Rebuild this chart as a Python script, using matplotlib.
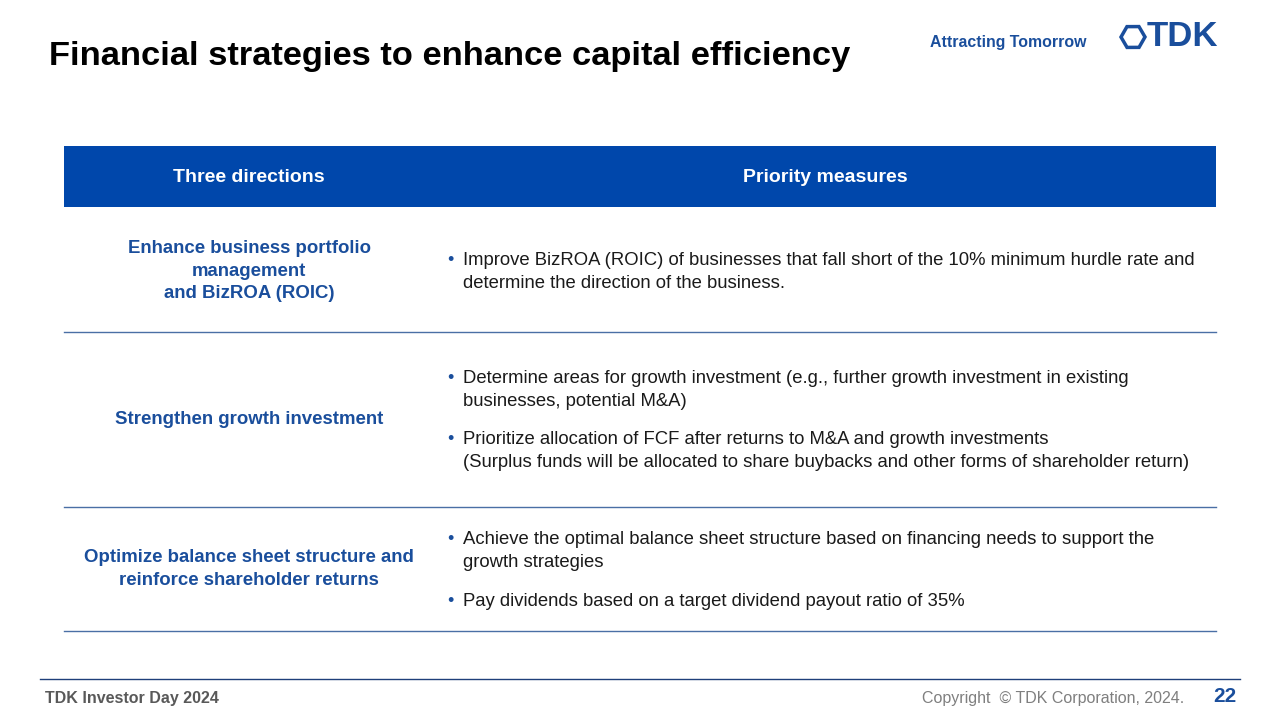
import matplotlib
matplotlib.use("Agg")
import matplotlib.pyplot as plt
from matplotlib.patches import Rectangle, RegularPolygon

plt.rcParams["font.family"] = "Liberation Sans"

title = "Financial strategies to enhance capital efficiency"
headers = ["Three directions", "Priority measures"]
directions = ["Enhance business portfolio\nmanagement\nand BizROA (ROIC)",
              "Strengthen growth investment",
              "Optimize balance sheet structure and\nreinforce shareholder returns"]
measures = [
    ["Improve BizROA (ROIC) of businesses that fall short of the 10% minimum hurdle rate and\ndetermine the direction of the business."],
    ["Determine areas for growth investment (e.g., further growth investment in existing\nbusinesses, potential M&A)",
     "Prioritize allocation of FCF after returns to M&A and growth investments\n(Surplus funds will be allocated to share buybacks and other forms of shareholder return)"],
    ["Achieve the optimal balance sheet structure based on financing needs to support the\ngrowth strategies",
     "Pay dividends based on a target dividend payout ratio of 35%"],
]
footer_left = "TDK Investor Day 2024"
footer_right = "Copyright  \u00a9 TDK Corporation, 2024."
page = "22"

BLUE = "#0047ab"
TXTBLUE = "#1a4e9c"
fig = plt.figure(figsize=(12.8, 7.2), dpi=100)
ax = fig.add_axes([0, 0, 1, 1])
ax.set_xlim(0, 1280); ax.set_ylim(720, 0); ax.axis("off")

ax.text(49, 56, title, fontsize=24.8, fontweight="bold", va="center", ha="left", color="black")
ax.text(930, 43, "Attracting Tomorrow", fontsize=11.4, fontweight="bold", color=TXTBLUE, va="center")
ax.add_patch(RegularPolygon((1133, 37), 6, radius=12, orientation=0.52, facecolor="none", edgecolor=TXTBLUE, lw=2.5))
ax.text(1147, 37, "TDK", fontsize=25, fontweight="bold", color=TXTBLUE, va="center", ha="left")

ax.add_patch(Rectangle((64, 146), 1152, 61, facecolor=BLUE, edgecolor="none"))
ax.text(249, 178, headers[0], fontsize=14, fontweight="bold", color="white", ha="center", va="center")
ax.text(825, 178, headers[1], fontsize=14, fontweight="bold", color="white", ha="center", va="center")

row_bounds = [207, 332, 507, 631]
dir_y = [271, 420, 569]
meas_y = [[272], [390, 451], [551, 601]]
LS = 23
for i in range(3):
    ax.plot([64, 1216], [row_bounds[i+1]]*2, color="#4a6fa5", lw=1)
    ax.text(249, dir_y[i], directions[i], fontsize=13.4, fontweight="bold", color=TXTBLUE,
            ha="center", va="center", linespacing=1.45)
    for m, y in zip(measures[i], meas_y[i]):
        nl = m.count("\n") + 1
        top = y - (nl - 1) * LS / 2
        ax.text(447, top, "\u2022", fontsize=13, color=TXTBLUE, ha="left", va="center")
        ax.text(463, y, m, fontsize=13.3, color="#1a1a1a", ha="left", va="center", linespacing=1.45)

ax.plot([40, 1240], [679, 679], color="#1f3f7a", lw=1)
ax.text(45, 699, footer_left, fontsize=11.5, fontweight="bold", color="#595959", va="center")
ax.text(1184, 698, footer_right, fontsize=11.5, color="#7f7f7f", va="center", ha="right")
ax.text(1237, 696, page, fontsize=15, fontweight="bold", color=TXTBLUE, va="center", ha="right")

fig.savefig("out.png", dpi=100)
